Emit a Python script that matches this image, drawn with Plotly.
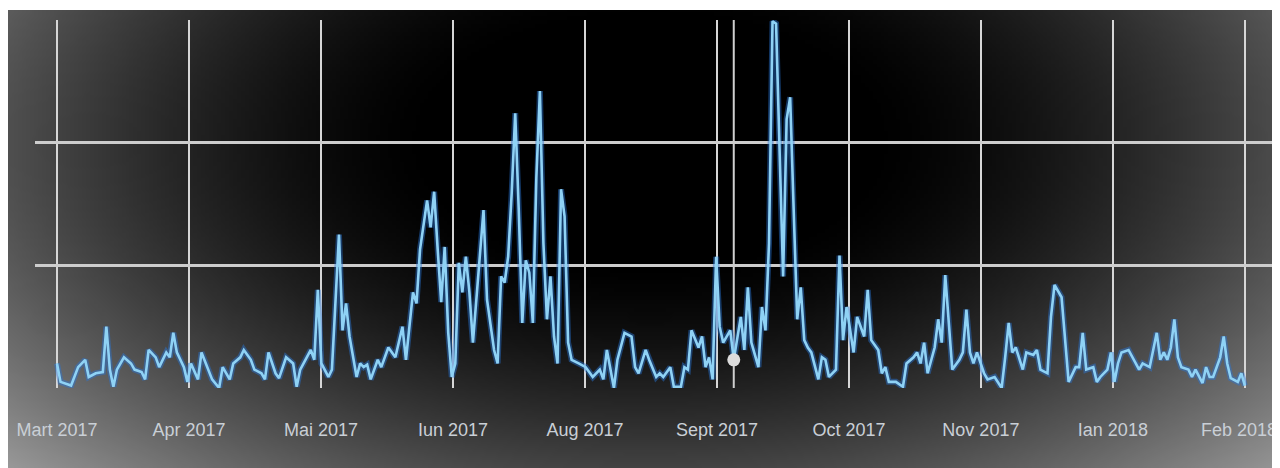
import base64
import struct
import zlib

import numpy as np
import pandas as pd
import plotly.graph_objects as go

# ---------------- data (day offset from 1 Mar 2017, value) ----------------
days = [0, 1, 4, 6, 8, 9, 11, 13, 14, 15, 16, 17, 19, 21, 22, 24, 25, 26, 28, 29,
        31, 32, 33, 34, 36, 37, 38, 40, 41, 43, 44, 46, 47, 49, 50, 52, 53, 55, 56, 58,
        59, 60, 62, 63, 65, 67, 68, 69, 71, 72, 73, 74, 75, 77, 78, 80, 81, 82, 83, 85,
        86, 87, 88, 89, 91, 92, 94, 96, 98, 99, 101, 102, 103, 105, 106, 107, 108, 109, 110, 111,
        112, 113, 114, 115, 116, 117, 118, 119, 121, 122, 123, 124, 125, 126, 127, 128, 129, 130, 131, 132,
        133, 134, 135, 136, 137, 138, 139, 140, 141, 142, 143, 144, 145, 146, 148, 150, 152, 154, 155, 156,
        158, 159, 161, 163, 164, 165, 167, 168, 170, 171, 172, 174, 175, 177, 178, 179, 180, 182, 183, 184,
        185, 186, 187, 188, 189, 191, 192, 193, 194, 195, 196, 197, 199, 200, 201, 202, 203, 204, 205, 206,
        207, 208, 209, 210, 211, 212, 213, 214, 216, 217, 218, 219, 221, 222, 223, 224, 226, 227, 229, 230,
        231, 233, 234, 235, 236, 238, 240, 241, 243, 244, 245, 246, 247, 249, 250, 251, 252, 253, 254, 256,
        257, 258, 259, 260, 261, 263, 264, 266, 267, 268, 269, 270, 271, 272, 274, 275, 277, 278, 279, 281,
        282, 283, 285, 286, 287, 289, 290, 291, 292, 294, 295, 296, 298, 299, 300, 301, 302, 304, 306, 307,
        308, 310, 311, 312, 313, 314, 315, 316, 317, 318, 319, 321, 322, 323, 325, 326, 327, 328, 330, 331,
        332, 333, 335, 336, 337]
values = [20, 5, 2, 17, 23, 9, 12, 13, 50, 15, 1, 15, 25, 20, 15, 13, 7, 31, 25, 17,
          29, 25, 45, 29, 17, 5, 20, 7, 29, 15, 7, 0, 17, 7, 20, 25, 31, 23, 15, 12,
          7, 29, 12, 8, 25, 20, 1, 15, 25, 31, 23, 80, 20, 9, 15, 125, 47, 69, 42, 9,
          20, 17, 19, 7, 23, 17, 33, 25, 50, 23, 78, 69, 113, 153, 131, 160, 113, 70, 115, 45,
          9, 20, 102, 78, 107, 78, 37, 72, 145, 72, 50, 31, 20, 91, 86, 107, 159, 224, 145, 53,
          104, 94, 53, 172, 242, 118, 56, 91, 42, 20, 162, 140, 37, 23, 20, 17, 9, 15, 7, 31,
          0, 23, 45, 42, 17, 12, 31, 23, 9, 12, 9, 17, 1, 1, 17, 15, 47, 33, 42, 17,
          25, 7, 107, 50, 37, 47, 23, 39, 58, 31, 82, 37, 17, 66, 47, 118, 299, 297, 200, 91,
          219, 237, 145, 56, 82, 39, 33, 29, 7, 25, 23, 9, 15, 108, 39, 66, 29, 58, 42, 80,
          39, 31, 12, 17, 5, 5, 1, 20, 25, 29, 20, 37, 12, 33, 56, 37, 92, 50, 15, 23,
          29, 64, 29, 20, 29, 12, 7, 9, 4, 0, 25, 53, 29, 33, 15, 29, 27, 31, 15, 12,
          58, 84, 74, 37, 5, 17, 17, 45, 15, 17, 5, 9, 15, 29, 5, 20, 29, 31, 20, 15,
          20, 17, 31, 45, 23, 29, 23, 33, 56, 25, 17, 15, 9, 15, 4, 17, 9, 9, 25, 42,
          20, 8, 5, 12, 2]
tick_labels = ["Mart 2017", "Apr 2017", "Mai 2017", "Iun 2017", "Aug 2017",
               "Sept 2017", "Oct 2017", "Nov 2017", "Ian 2018", "Feb 2018"]
hover_index = days.index(192)

start = pd.Timestamp("2017-03-01")
dates = start + pd.to_timedelta(days, unit="D")
span = days[-1]
tick_vals = [start + pd.Timedelta(days=span * k / (len(tick_labels) - 1)) for k in range(len(tick_labels))]

# ---------------- layout geometry (figure sits 8px in from page edge) ----------------
W, H = 1272, 460
ML, MR, MT, MB = 27, 8, 12, 80
PX0, PY0 = 0, 2          # dark panel top-left inside figure
PX1, PY1 = 1272, 460     # dark panel bottom-right
LABEL_GAP = 42           # px from x axis to centre of tick label text
FONT = "Liberation Sans, Arial, sans-serif"
LABEL_COLOR = "#c9cfd6"


def make_png(arr):
    h, w, _ = arr.shape
    raw = b"".join(b"\x00" + arr[i].tobytes() for i in range(h))

    def chunk(tag, data):
        c = struct.pack(">I", len(data)) + tag + data
        return c + struct.pack(">I", zlib.crc32(tag + data) & 0xFFFFFFFF)

    png = b"\x89PNG\r\n\x1a\n"
    png += chunk(b"IHDR", struct.pack(">IIBBBBB", w, h, 8, 2, 0, 0, 0))
    png += chunk(b"IDAT", zlib.compress(raw, 9))
    png += chunk(b"IEND", b"")
    return "data:image/png;base64," + base64.b64encode(png).decode()


# vignette computed in page coordinates
iw, ih = 320, 116
gx = np.linspace(PX0 + 8, PX1 + 8, iw)
gy = np.linspace(PY0 + 8, PY1 + 8, ih)
XX, YY = np.meshgrid(gx, gy)
r = np.sqrt(((XX - 650) / 760) ** 2 + ((YY - 140) / 420) ** 2)
t = np.clip((r - 0.28) / 0.9, 0, 1) ** 1.5
g = np.clip(t * 160, 0, 255).astype(np.uint8)
img = np.stack([g, g, g], axis=-1)
bg_src = make_png(img)

pw = W - ML - MR
ph = H - MT - MB

fig = go.Figure()
fig.add_trace(go.Scatter(x=dates, y=values, mode="lines",
                         line=dict(color="rgba(40,120,220,0.45)", width=6),
                         hoverinfo="skip", showlegend=False))
fig.add_trace(go.Scatter(x=dates, y=values, mode="lines",
                         line=dict(color="#8fd2f5", width=2.6),
                         showlegend=False))
fig.add_trace(go.Scatter(x=[dates[hover_index]], y=[values[hover_index]], mode="markers",
                         marker=dict(color="#dcdcdc", size=13),
                         showlegend=False))

fig.add_shape(type="line", x0=dates[hover_index], x1=dates[hover_index],
              y0=0, y1=1, xref="x", yref="y domain",
              line=dict(color="#cfcfcf", width=2), layer="below")

fig.add_layout_image(dict(
    source=bg_src, xref="paper", yref="paper",
    x=(PX0 - ML) / pw, y=(H - MB - PY0) / ph,
    sizex=(PX1 - PX0) / pw, sizey=(PY1 - PY0) / ph,
    xanchor="left", yanchor="top", sizing="stretch", layer="below"))

# last tick label sits at the right page edge: draw it as an annotation nudged inside
fig.add_annotation(x=tick_vals[-1], xref="x", y=-LABEL_GAP / ph, yref="paper",
                   text=tick_labels[-1], showarrow=False, xanchor="center", yanchor="middle",
                   xshift=-6, font=dict(family=FONT, size=18, color=LABEL_COLOR))

fig.update_layout(
    width=W, height=H,
    margin=dict(l=ML, r=MR, t=MT, b=MB, autoexpand=False),
    paper_bgcolor="#ffffff",
    plot_bgcolor="rgba(0,0,0,0)",
    showlegend=False,
    font=dict(family=FONT, size=18, color=LABEL_COLOR),
)
fig.update_xaxes(
    range=[start + pd.Timedelta(days=-6.24), start + pd.Timedelta(days=344.7)],
    tickvals=tick_vals, ticktext=tick_labels[:-1] + [""],
    showgrid=True, gridcolor="#d6d6d6", gridwidth=2,
    zeroline=False, showline=False, ticks="",
    ticklabelstandoff=29, ticklabeloverflow="allow", automargin=False,
)
fig.update_yaxes(
    range=[0, 300], tickvals=[0, 100, 200],
    showgrid=True, gridcolor="#cdcdcd", gridwidth=3,
    zeroline=False, showline=False, showticklabels=False, ticks="",
    automargin=False,
)

fig.write_html("out.html")
